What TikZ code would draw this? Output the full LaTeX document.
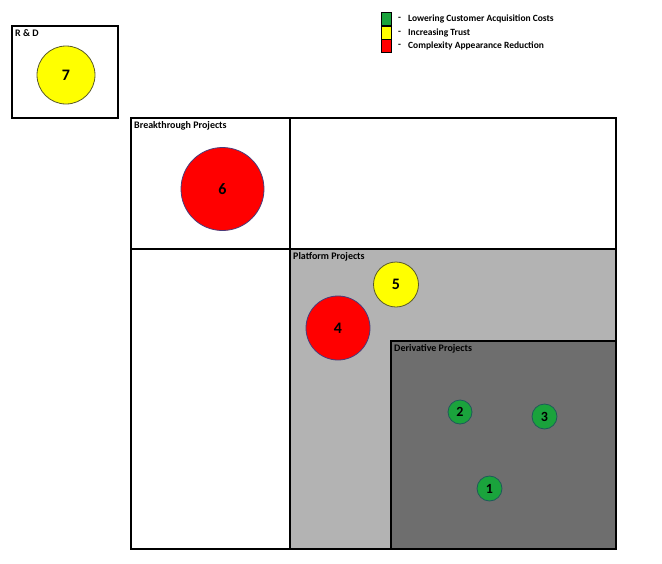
\documentclass[tikz,border=0pt]{standalone}
\usepackage{fontspec}
\setmainfont{Carlito}
\definecolor{cgreen}{HTML}{1AA33C}
\definecolor{cyellow}{HTML}{FFFF00}
\definecolor{cred}{HTML}{FF0000}
\definecolor{platgrey}{HTML}{B3B3B3}
\definecolor{derivgrey}{HTML}{6E6E6E}
\definecolor{redborder}{HTML}{4A3C7A}
\definecolor{yelborder}{HTML}{5A5A2A}
\definecolor{grnborder}{HTML}{1F5A5A}
\tikzset{
  boxline/.style={draw=black, line width=2pt},
  lbl/.style={font=\bfseries\fontsize{10}{11}\selectfont, anchor=north west, inner sep=0pt},
  legtxt/.style={font=\bfseries\fontsize{9.5}{11}\selectfont, anchor=west, inner sep=0pt},
  bubble/.style={circle, inner sep=0pt, line width=0.8pt, font=\bfseries\fontsize{16}{17}\selectfont},
  redb/.style={bubble, fill=cred, draw=redborder},
  yelb/.style={bubble, fill=cyellow, draw=yelborder},
  grnb/.style={bubble, fill=cgreen, draw=grnborder, font=\bfseries\fontsize{14}{15}\selectfont},
  legsq/.style={draw=black, line width=0.6pt, minimum width=10pt, minimum height=13pt, inner sep=0pt}
}
\begin{document}
\begin{tikzpicture}[x=1pt,y=-1pt]
\useasboundingbox (0,0) rectangle (662,563);
% legend
\node[legsq, fill=cgreen] (lg) at (386,19) {};
\node[legsq, fill=cyellow] (ly) at (386,32.5) {};
\node[legsq, fill=cred] (lr) at (386,46) {};
\node[legtxt] (lgd) at (398,19) {-};
\node[legtxt] (lyd) at (398,32.5) {-};
\node[legtxt] (lrd) at (398,46) {-};
\node[legtxt] (lgt) at (408,19) {Lowering Customer Acquisition Costs};
\node[legtxt] (lyt) at (408,32.5) {Increasing Trust};
\node[legtxt] (lrt) at (408,46) {Complexity Appearance Reduction};
% R&D
\draw[boxline] (12,26) rectangle (118,118);
\node[lbl] (rd) at (15,29) {R \& D};
\node[yelb, minimum size=58pt] (c7) at (66,75) {7};
% main grid
\fill[platgrey] (290,249) rectangle (616,549);
\fill[derivgrey] (391,341) rectangle (616,549);
\draw[boxline] (131,118) rectangle (616,549);
\draw[boxline] (290,118) -- (290,549);
\draw[boxline] (131,249) -- (616,249);
\draw[boxline] (391,549) -- (391,341) -- (616,341);
\node[lbl] (bp) at (134,121.5) {Breakthrough Projects};
\node[lbl] (pp) at (293,252) {Platform Projects};
\node[lbl] (dp) at (394,344) {Derivative Projects};
% bubbles
\node[redb, minimum size=83pt] (c6) at (222.5,189) {6};
\node[yelb, minimum size=45pt] (c5) at (396,284.5) {5};
\node[redb, minimum size=64pt] (c4) at (338,328) {4};
\node[grnb, minimum size=24pt] (c2) at (460,412) {2};
\node[grnb, minimum size=25pt] (c3) at (544.5,416.5) {3};
\node[grnb, minimum size=25pt] (c1) at (489.5,488.5) {1};
\end{tikzpicture}
\end{document}
